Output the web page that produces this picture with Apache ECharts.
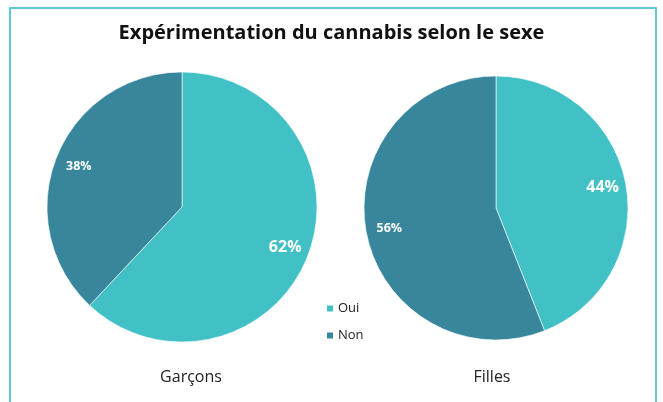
<!DOCTYPE html>
<html><head><meta charset="utf-8">
<script src="https://cdn.jsdelivr.net/npm/echarts@6/dist/echarts.min.js"></script>
<style>html,body{margin:0;padding:0;background:#fff}#c{width:663px;height:402px}</style>
</head><body><div id="c"></div>
<script>
const categories = ['Oui', 'Non'];
const garcons = [62, 38];
const filles = [44, 56];
const groups = ['Garçons', 'Filles'];
const colors = ['#41C1C6', '#37869C'];
const FONT = '"Open Sans", "Noto Sans", sans-serif';

function pieData(vals) {
  return categories.map((n, i) => ({
    name: n, value: vals[i],
    label: { fontSize: i === 0 ? 16 : 12.5 }
  }));
}
function basePie(center, r, vals) {
  return {
    type: 'pie', center: center, radius: r, startAngle: 90, clockwise: true,
    label: { show: false }, labelLine: { show: false },
    itemStyle: { borderColor: '#fff', borderWidth: 0.6 },
    emphasis: { disabled: true }, animation: false,
    data: categories.map((n, i) => ({ name: n, value: vals[i] }))
  };
}
function labelPie(center, r, vals) {
  return {
    type: 'pie', center: center, radius: [r * 0.6, r], startAngle: 90, clockwise: true,
    silent: true, animation: false,
    itemStyle: { color: 'rgba(0,0,0,0)', borderWidth: 0 },
    label: { show: true, position: 'inside', color: '#fff', fontWeight: 'bold', fontFamily: FONT,
      formatter: p => p.value + '%' },
    labelLine: { show: false },
    legendHoverLink: false,
    data: pieData(vals)
  };
}
const chart = echarts.init(document.getElementById('c'), null, { renderer: 'canvas' });
chart.setOption({
  color: colors,
  animation: false,
  title: [
    { text: 'Expérimentation du cannabis selon le sexe', left: 'center', top: 18,
      textStyle: { fontFamily: FONT, fontSize: 20, fontWeight: 'bold', color: '#111' } },
    { text: groups[0], left: 186, top: 364, textAlign: 'center',
      textStyle: { fontFamily: FONT, fontSize: 16, fontWeight: 'normal', color: '#222' } },
    { text: groups[1], left: 487, top: 364, textAlign: 'center',
      textStyle: { fontFamily: FONT, fontSize: 16, fontWeight: 'normal', color: '#222' } }
  ],
  legend: {
    data: categories, orient: 'vertical', left: 320, top: 297,
    icon: 'rect', itemWidth: 8, itemHeight: 8, itemGap: 14,
    textStyle: { fontFamily: FONT, fontSize: 13, color: '#222', padding: [0, 0, 0, -1] }
  },
  graphic: [{
    type: 'rect', shape: { x: 10, y: 8, width: 646, height: 420 },
    style: { fill: 'none', stroke: '#5FCAD6', lineWidth: 2 }, silent: true
  }],
  series: [
    basePie([182, 207], 135, garcons),
    basePie([496, 208], 132, filles),
    labelPie([182, 207], 135, garcons),
    labelPie([496, 208], 132, filles)
  ]
});
</script></body></html>
